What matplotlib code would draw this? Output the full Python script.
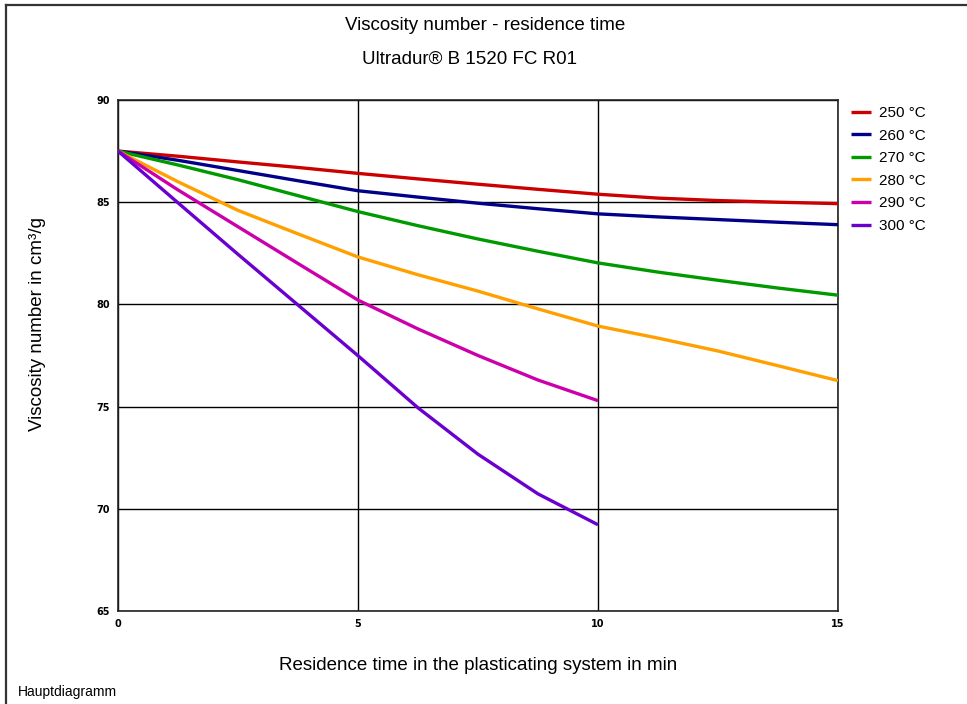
import matplotlib
matplotlib.use("Agg")
import matplotlib.pyplot as plt
from matplotlib.lines import Line2D

plt.rcParams["font.family"] = ["Liberation Sans", "DejaVu Sans"]

# residence time (min) and viscosity number (cm3/g)
T_LONG = [0, 1.25, 2.5, 3.75, 5, 6.25, 7.5, 8.75, 10, 11.25, 12.5, 13.75, 15]
T_SHORT = [0, 1.25, 2.5, 3.75, 5, 6.25, 7.5, 8.75, 10]

VN_250 = [87.5, 87.25, 86.97, 86.70, 86.41, 86.14, 85.88, 85.63, 85.39, 85.20, 85.08, 85.00, 84.93]
VN_260 = [87.5, 87.05, 86.55, 86.05, 85.56, 85.25, 84.95, 84.68, 84.43, 84.28, 84.15, 84.02, 83.90]
VN_270 = [87.5, 86.82, 86.10, 85.32, 84.54, 83.85, 83.20, 82.60, 82.03, 81.58, 81.18, 80.80, 80.45]
VN_280 = [87.5, 86.00, 84.60, 83.45, 82.32, 81.45, 80.65, 79.78, 78.94, 78.35, 77.72, 77.00, 76.27]
VN_290 = [87.5, 85.60, 83.80, 82.00, 80.21, 78.80, 77.50, 76.30, 75.29]
VN_300 = [87.5, 84.97, 82.45, 79.97, 77.49, 74.94, 72.67, 70.73, 69.22]

SERIES = [
    ("250 °C", T_LONG, VN_250, "#cc0000"),
    ("260 °C", T_LONG, VN_260, "#000088"),
    ("270 °C", T_LONG, VN_270, "#009900"),
    ("280 °C", T_LONG, VN_280, "#ffa000"),
    ("290 °C", T_SHORT, VN_290, "#cc00aa"),
    ("300 °C", T_SHORT, VN_300, "#6a00d0"),
]

X_TICKS = [0, 5, 10, 15]
Y_TICKS = [65, 70, 75, 80, 85, 90]

W, H = 967, 704
fig = plt.figure(figsize=(W / 100, H / 100), dpi=100)
ax = fig.add_axes([118 / W, 1 - 611 / H, (838 - 118) / W, (611 - 100) / H])

for lab, t, v, c in SERIES:
    ax.plot(t, v, color=c, lw=2.4, label=lab, zorder=3, solid_capstyle="butt")

ax.set_xlim(0, 15)
ax.set_ylim(65, 90)
ax.set_xticks(X_TICKS)
ax.set_yticks(Y_TICKS)
ax.grid(True, color="black", lw=1.0, zorder=1)
ax.tick_params(length=0, labelsize=7, pad=6)
for lbl in ax.get_xticklabels() + ax.get_yticklabels():
    lbl.set_fontweight("bold")
    lbl.set_family("DejaVu Sans")
for sp in ax.spines.values():
    sp.set_linewidth(1.2)
    sp.set_color("#222222")

ax.legend(loc="upper left", bbox_to_anchor=(1.01, 1.0), frameon=False, fontsize=11,
          handlelength=1.3, handletextpad=0.5, labelspacing=0.56, borderaxespad=0.0)

fig.text(485 / W, 1 - 25 / H, "Viscosity number - residence time", ha="center", va="center", fontsize=13.5)
fig.text(470 / W, 1 - 59 / H, "Ultradur® B 1520 FC R01", ha="center", va="center", fontsize=13.5)
fig.text(38 / W, 1 - 324 / H, "Viscosity number in cm³/g", ha="center", va="center",
         rotation=90, fontsize=13.5)
fig.text(478 / W, 1 - 665 / H, "Residence time in the plasticating system in min",
         ha="center", va="center", fontsize=13.5)
fig.text(18 / W, 1 - 692 / H, "Hauptdiagramm", ha="left", va="center", fontsize=10)

# outer frame (left and top edges only)
fig.add_artist(Line2D([6 / W, 6 / W], [0, 1 - 5 / H], color="#333333", lw=1.6))
fig.add_artist(Line2D([6 / W, 1], [1 - 5 / H, 1 - 5 / H], color="#333333", lw=1.6))

fig.savefig("out.png", dpi=100)
